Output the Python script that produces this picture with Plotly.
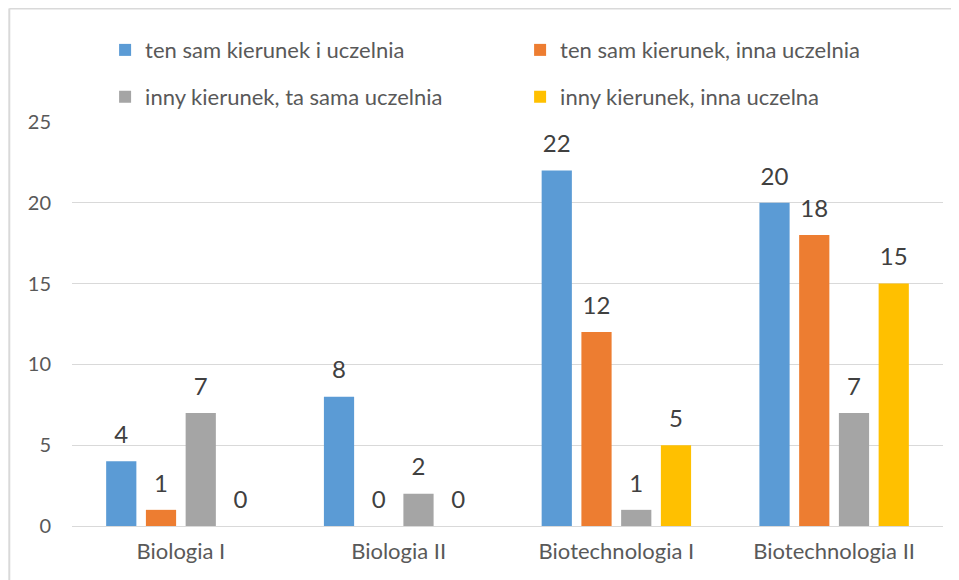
import plotly.graph_objects as go

# data
kierunki = ['Biologia I', 'Biologia II', 'Biotechnologia I', 'Biotechnologia II']
serie = ['ten sam kierunek i uczelnia', 'ten sam kierunek, inna uczelnia',
         'inny kierunek, ta sama uczelnia', 'inny kierunek, inna uczelna']
ten_sam_ta_sama = [4, 8, 22, 20]
ten_sam_inna = [1, 0, 12, 18]
inny_ta_sama = [7, 2, 1, 7]
inny_inna = [0, 0, 5, 15]
y_ticks = [0, 5, 10, 15, 20, 25]

wartosci = [ten_sam_ta_sama, ten_sam_inna, inny_ta_sama, inny_inna]
kolory = ['#5B9BD5', '#ED7D31', '#A5A5A5', '#FFC000']
legendy = ['legend', 'legend', 'legend2', 'legend2']

FONT = 'Lato, Open Sans, sans-serif'
GAP = 0.27

fig = go.Figure()

for nazwa, vals, kol, lg in zip(serie, wartosci, kolory, legendy):
    fig.add_trace(go.Bar(x=kierunki, y=vals, name=nazwa, marker_color=kol,
                         marker_line_width=0, legend=lg, hoverinfo='y'))

# data labels (Excel puts them well above the bars)
for vals in wartosci:
    fig.add_trace(go.Scatter(x=kierunki, y=vals, text=[str(v) for v in vals],
                             mode='markers+text', textposition='top center',
                             marker=dict(size=18, color='rgba(0,0,0,0)'),
                             textfont=dict(size=24, color='#404040', family=FONT),
                             showlegend=False, hoverinfo='skip', cliponaxis=False))

# page body adds 8px offset, so margins are shifted to compensate
fig.update_layout(
    width=959, height=580,
    paper_bgcolor='white', plot_bgcolor='white',
    margin=dict(l=64, r=24, t=114, b=62, autoexpand=False),
    barmode='group', bargap=GAP, bargroupgap=0.24,
    scattermode='group', scattergap=GAP,
    font=dict(family=FONT, color='#595959', size=18),
    legend=dict(orientation='h', x=0.038, xanchor='left', y=1.178, yanchor='middle',
                entrywidth=370, font=dict(size=22, color='#595959'),
                bgcolor='rgba(0,0,0,0)'),
    legend2=dict(orientation='h', x=0.038, xanchor='left', y=1.062, yanchor='middle',
                 entrywidth=370, font=dict(size=22, color='#595959'),
                 bgcolor='rgba(0,0,0,0)'),
    shapes=[
        dict(type='line', xref='paper', yref='paper', x0=-0.072, x1=1.1, y0=1.281, y1=1.281,
             line=dict(color='#D9D9D9', width=2)),
        dict(type='line', xref='paper', yref='paper', x0=-0.072, x1=-0.072, y0=1.281, y1=-0.2,
             line=dict(color='#D9D9D9', width=2)),
    ],
)

fig.update_xaxes(showgrid=False, showline=False, ticks='', ticklabelstandoff=10,
                 tickfont=dict(size=22, color='#595959'))
fig.update_yaxes(range=[0, 25], tickvals=y_ticks, showgrid=True, gridcolor='#D9D9D9',
                 gridwidth=1, zeroline=True, zerolinecolor='#D9D9D9', zerolinewidth=1,
                 showline=False, ticks='', ticklabelstandoff=20,
                 tickfont=dict(size=20, color='#595959'))

fig.write_html('out.html')
